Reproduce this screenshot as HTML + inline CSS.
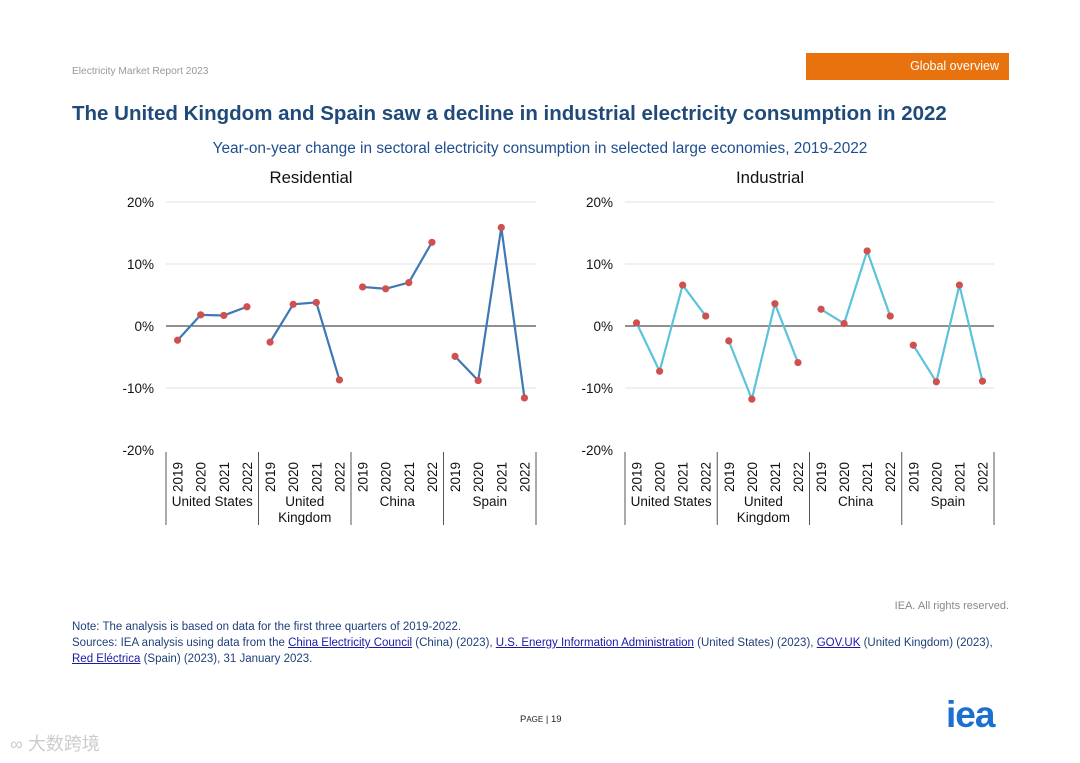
<!DOCTYPE html>
<html><head><meta charset="utf-8"><style>
body{margin:0;width:1080px;height:763px;background:#fff;font-family:"Liberation Sans",Arial,sans-serif;position:relative;overflow:hidden}
.a{position:absolute;white-space:nowrap}
a{color:#1a1aa6;text-decoration:underline}
</style></head><body>
<div class="a" style="left:72px;top:66px;font-size:10.2px;color:#999">Electricity Market Report 2023</div>
<div class="a" style="left:806px;top:53px;width:203px;height:27px;background:#e8730e;color:#fff;font-size:12.5px;line-height:27px;text-align:right;box-sizing:border-box;padding-right:10px">Global overview</div>
<div class="a" style="left:72px;top:102px;font-size:20.5px;font-weight:bold;color:#1f4a7a">The United Kingdom and Spain saw a decline in industrial electricity consumption in 2022</div>
<div class="a" style="left:0;width:1080px;text-align:center;top:140px;font-size:15.4px;color:#1f4e8f">Year-on-year change in sectoral electricity consumption in selected large economies, 2019-2022</div>
<svg class="a" style="left:0;top:0" width="1080" height="763" id="svg"></svg>
<div class="a" style="right:71px;top:600px;font-size:11px;color:#888">IEA. All rights reserved.</div>
<div class="a" style="left:72px;top:619px;font-size:11.5px;color:#1f3f7a;line-height:16px">Note: The analysis is based on data for the first three quarters of 2019-2022.<br>Sources: IEA analysis using data from the <a>China Electricity Council</a> (China) (2023), <a>U.S. Energy Information Administration</a> (United States) (2023), <a>GOV.UK</a> (United Kingdom) (2023),<br><a>Red Eléctrica</a> (Spain) (2023), 31 January 2023.</div>
<div class="a" style="left:520px;top:714px;font-size:9.5px;color:#222">P<span style="font-size:8px">AGE</span> | 19</div>
<div class="a" style="left:946px;top:694px;font-size:37px;font-weight:bold;color:#1a6fd0;letter-spacing:-1px">iea</div>
<div class="a" style="left:10px;top:730px;font-size:18px;color:#ccc;font-family:'Liberation Sans','Noto Sans CJK SC',sans-serif">∞ 大数跨境</div>
<script>
const groups=["United States","United Kingdom","China","Spain"];
const years=["2019","2020","2021","2022"];
const residential=[-2.3,1.8,1.7,3.1,-2.6,3.5,3.8,-8.7,6.3,6.0,7.0,13.5,-4.9,-8.8,15.9,-11.6];
const industrial=[0.5,-7.3,6.6,1.6,-2.4,-11.8,3.6,-5.9,2.7,0.4,12.1,1.6,-3.1,-9.0,6.6,-8.9];
const yTicks=[20,10,0,-10,-20];
const svg=document.getElementById('svg');const NS='http://www.w3.org/2000/svg';
function mk(t,at,txt){const e=document.createElementNS(NS,t);for(const k in at)e.setAttribute(k,at[k]);if(txt!==undefined)e.textContent=txt;svg.appendChild(e);return e;}
function chart(x0,x1,tx,title,vals,color,key){
 const y=v=>326-v*6.2;const step=(x1-x0)/16;const xp=i=>x0+step*(i+0.5);
 let t=mk('text',{x:tx,y:183,'text-anchor':'middle','font-size':16.8,fill:'#111'},title);
 
 yTicks.forEach(v=>{
  if(v!==-20&&v!==0){let g=mk('line',{x1:x0,x2:x1,y1:y(v),y2:y(v),stroke:'#e2e2e2'});}
  let l=mk('text',{x:x0-12,y:y(v)+5,'text-anchor':'end','font-size':13.5,fill:'#111'},v+'%');
  
 });
 let z=mk('line',{x1:x0,x2:x1,y1:y(0),y2:y(0),stroke:'#222'});
 for(let g=0;g<4;g++){
  const pts=[];for(let k=0;k<4;k++){const i=g*4+k;pts.push(xp(i)+','+y(vals[i]));}
  let p=mk('polyline',{points:pts.join(' '),fill:'none',stroke:color,'stroke-width':2.2});
  
 }
 vals.forEach((v,i)=>{let c=mk('circle',{cx:xp(i),cy:y(v),r:3.6,fill:'#d0504f'});
  let yl=mk('text',{transform:`translate(${xp(i)+5},492) rotate(-90)`,'font-size':13.5,fill:'#111'},years[i%4]);});
 for(let g=0;g<=4;g++){let s=mk('line',{x1:x0+g*step*4,x2:x0+g*step*4,y1:452,y2:525,stroke:'#555'});}
 groups.forEach((n,g)=>{const cx=x0+step*(g*4+2);const parts=n==="United Kingdom"?["United","Kingdom"]:[n];
  parts.forEach((p,j)=>{let l=mk('text',{x:cx,y:506+j*16,'text-anchor':'middle','font-size':13.5,fill:'#111'},p);});});
}
chart(166,536,311,'Residential',residential,'#3f78b5','residential');
chart(625,994,770,'Industrial',industrial,'#5bc3dc','industrial');
</script>
</body></html>
